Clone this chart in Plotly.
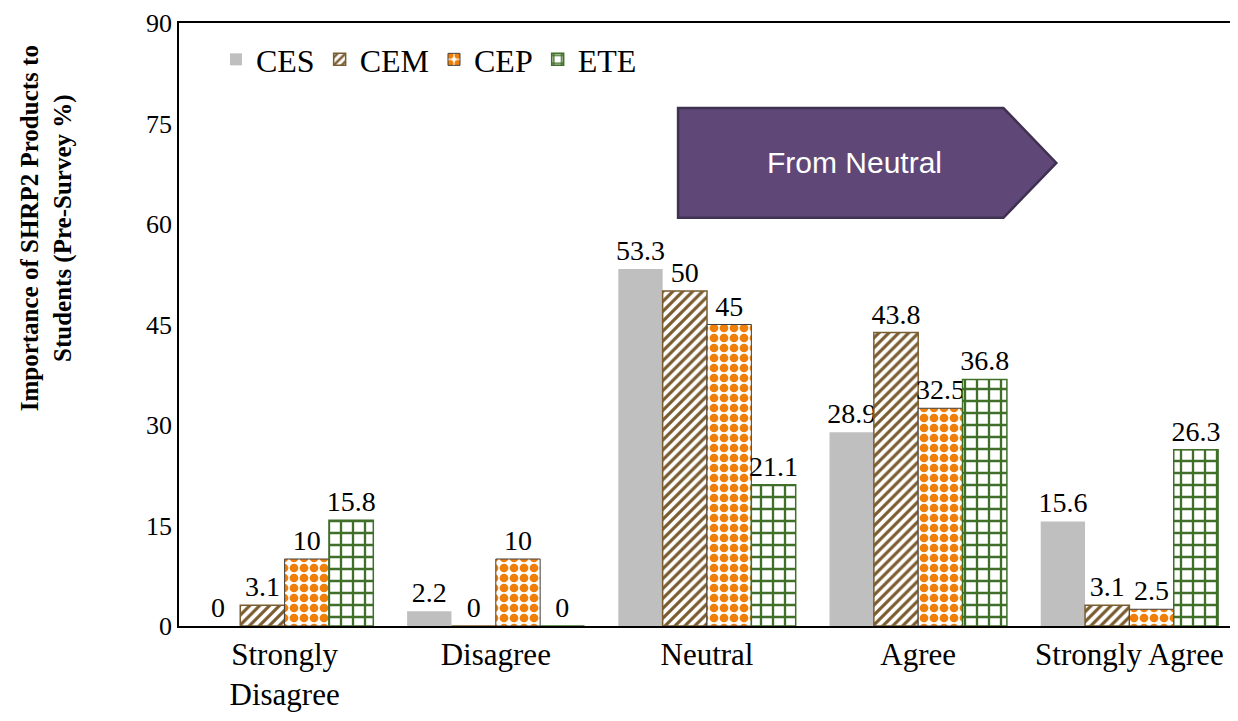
import plotly.graph_objects as go

categories = ["Strongly<br>Disagree", "Disagree", "Neutral", "Agree", "Strongly Agree"]
ces = [0, 2.2, 53.3, 28.9, 15.6]
cem = [3.1, 0, 50, 43.8, 3.1]
cep = [10, 10, 45, 32.5, 2.5]
ete = [15.8, 0, 21.1, 36.8, 26.3]

serif = "Liberation Serif"

fig = go.Figure()

# CES - solid gray
fig.add_trace(go.Bar(
    x=categories, y=ces, name="CES",
    marker=dict(color="#BFBFBF", line=dict(width=0)),
    text=ces,
))

# CEM - brown diagonal hatch
fig.add_trace(go.Bar(
    x=categories, y=cem, name="CEM",
    marker=dict(
        color="white",
        line=dict(color="#7A5C30", width=1.5),
        pattern=dict(shape="/", fgcolor="#7A5C30", bgcolor="white",
                     size=7, solidity=0.45, fgopacity=1),
    ),
    text=cem,
))

# CEP - orange checks
fig.add_trace(go.Bar(
    x=categories, y=cep, name="CEP",
    marker=dict(
        color="white",
        line=dict(color="#404040", width=1),
        pattern=dict(shape=".", fgcolor="#F07F09", bgcolor="white",
                     size=10, solidity=0.6, fgopacity=1),
    ),
    text=cep,
))

# ETE - green brick
fig.add_trace(go.Bar(
    x=categories, y=ete, name="ETE",
    marker=dict(
        color="white",
        line=dict(color="#3F6F28", width=1.5),
        pattern=dict(shape="+", fgcolor="#3F6F28", bgcolor="white",
                     size=12, solidity=0.35, fgopacity=1),
    ),
    text=ete,
))

fig.update_traces(
    textposition="outside", cliponaxis=False, constraintext="none",
    textfont=dict(family=serif, size=28, color="black"),
)

# "From Neutral" arrow box
fig.add_shape(
    type="path", xref="paper", yref="paper",
    path="M 0.4726 0.859 L 0.7807 0.859 L 0.8308 0.768 L 0.7807 0.677 L 0.4726 0.677 Z",
    fillcolor="#5F4878", line=dict(color="#3F3151", width=2.5),
)
fig.add_annotation(
    x=0.64, y=0.768, xref="paper", yref="paper", yanchor="middle",
    text="From Neutral", showarrow=False,
    font=dict(family="Liberation Sans", size=30, color="white"),
)

# y axis title, placed by hand since it sits above the axis centre
fig.add_annotation(
    x=-0.1257, y=0.66, xref="paper", yref="paper",
    xanchor="center", yanchor="middle", textangle=-90,
    text="<b>Importance of SHRP2 Products to<br>Students (Pre-Survey %)</b>",
    showarrow=False, font=dict(family=serif, size=25, color="black"),
)

# page body has an 8px margin, so the figure is drawn 8px smaller
fig.update_layout(
    width=1230, height=713,
    margin=dict(l=171, r=1, t=14, b=95),
    barmode="group",
    bargap=0.16,
    bargroupgap=0,
    plot_bgcolor="white",
    paper_bgcolor="white",
    font=dict(family=serif, size=28, color="black"),
    legend=dict(
        orientation="h", x=0.035, y=0.985, xanchor="left", yanchor="top",
        font=dict(family=serif, size=32), bgcolor="rgba(0,0,0,0)",
        itemwidth=30, tracegroupgap=0,
    ),
    xaxis=dict(
        showline=True, linecolor="black", linewidth=1.5, mirror=True,
        ticks="", tickfont=dict(family=serif, size=31),
    ),
    yaxis=dict(
        range=[0, 90], tickvals=[0, 15, 30, 45, 60, 75, 90],
        showgrid=False, zeroline=False,
        showline=True, linecolor="black", linewidth=1.5, mirror=True,
        ticks="", ticklen=0, tickfont=dict(family=serif, size=26),
    ),
)

fig.write_html("out.html")
